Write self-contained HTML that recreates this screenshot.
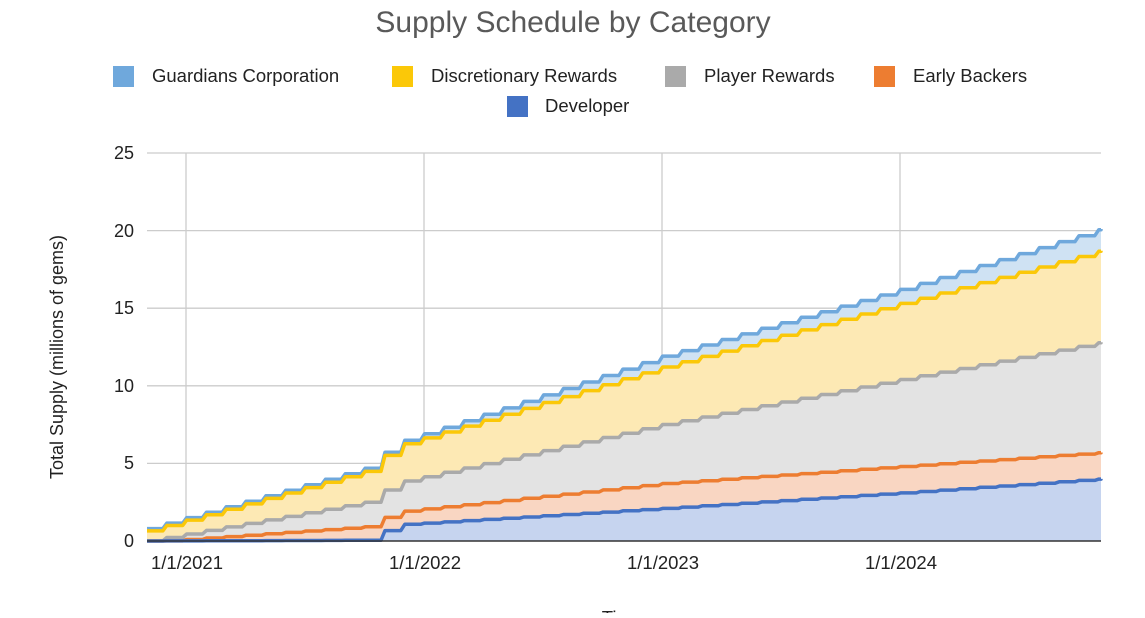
<!DOCTYPE html><html><head><meta charset="utf-8"><style>
body{margin:0;background:#fff;font-family:"Liberation Sans",sans-serif}
</style></head><body>
<svg id="s" width="1145" height="613" xmlns="http://www.w3.org/2000/svg" font-family="Liberation Sans, sans-serif">
<rect width="1145" height="613" fill="#fff"/>
<text x="573" y="32" font-size="30" fill="#595959" text-anchor="middle">Supply Schedule by Category</text>
<g font-size="18.5" fill="#222">
<rect x="113" y="66" width="21" height="21" fill="#6fa8dc"/><text x="152" y="82">Guardians Corporation</text>
<rect x="392" y="66" width="21" height="21" fill="#fbc808"/><text x="431" y="82">Discretionary Rewards</text>
<rect x="665" y="66" width="21" height="21" fill="#aaaaaa"/><text x="704" y="82">Player Rewards</text>
<rect x="874" y="66" width="21" height="21" fill="#ed7d31"/><text x="913" y="82">Early Backers</text>
<rect x="507" y="96" width="21" height="21" fill="#4472c4"/><text x="545" y="112">Developer</text>
</g>
<g stroke="#cccccc" stroke-width="1.3">
<line x1="147" x2="1101" y1="153" y2="153"/><line x1="147" x2="1101" y1="230.6" y2="230.6"/>
<line x1="147" x2="1101" y1="308.2" y2="308.2"/><line x1="147" x2="1101" y1="385.8" y2="385.8"/>
<line x1="147" x2="1101" y1="463.4" y2="463.4"/>
<line x1="186" x2="186" y1="153" y2="541"/><line x1="424" x2="424" y1="153" y2="541"/>
<line x1="662" x2="662" y1="153" y2="541"/><line x1="900" x2="900" y1="153" y2="541"/>
</g>
<g font-size="18" fill="#222" text-anchor="end">
<text x="134" y="159">25</text><text x="134" y="237">20</text><text x="134" y="314">15</text>
<text x="134" y="392">10</text><text x="134" y="469">5</text><text x="134" y="547">0</text>
</g>
<g font-size="18.5" fill="#222" text-anchor="middle">
<text x="187" y="569">1/1/2021</text><text x="425" y="569">1/1/2022</text>
<text x="663" y="569">1/1/2023</text><text x="901" y="569">1/1/2024</text>
<text x="622" y="624">Time</text>
</g>
<text transform="translate(63,357) rotate(-90)" font-size="18" fill="#222" text-anchor="middle">Total Supply (millions of gems)</text>
<g id="areas"></g>
<line x1="147" x2="1101" y1="541" y2="541" stroke="#333" stroke-width="1.5"/>
</svg>
<script>
var S=[
 {k:[[147,0.8],[383,5.0],[386,6.1],[662,11.9],[900,16.2],[1101,20.1]],l:"#6fa8dc",f:"#cfe2f3"},
 {k:[[147,0.65],[383,4.8],[386,5.9],[662,11.2],[900,15.3],[1101,18.7]],l:"#fbc808",f:"#fde9b4"},
 {k:[[147,0],[383,2.7],[386,3.6],[662,7.5],[900,10.4],[1101,12.8]],l:"#aaaaaa",f:"#e3e3e3"},
 {k:[[147,0],[165,0],[383,1.0],[386,1.8],[662,3.7],[900,4.8],[1101,5.7]],l:"#ed7d31",f:"#f9d6c2"},
 {k:[[147,0],[383,0.05],[386,1.0],[662,2.1],[900,3.1],[1101,4.0]],l:"#4472c4",f:"#c6d4ef"}];
function f(k,x){for(var i=1;i<k.length;i++){if(x<=k[i][0]){var a=k[i-1],b=k[i];return a[1]+(b[1]-a[1])*(x-a[0])/(b[0]-a[0]);}}return k[k.length-1][1];}
function Y(v){return 541-v*15.52;}
var g=document.getElementById("areas"),h="";
S.forEach(function(s){
 var p=[],m=19.83;
 for(var x=147;x<1101;x+=m){var v=f(s.k,x);p.push([x,Y(v)]);p.push([Math.min(x+m-4,1101),Y(v)]);}
 p.push([1101,Y(f(s.k,1101))]);
 var d=p.map(function(q){return q[0].toFixed(1)+","+q[1].toFixed(1)}).join(" ");
 h+='<polygon points="147,541 '+d+' 1101,541" fill="'+s.f+'"/>';
 s.d=d;
});
S.forEach(function(s){h+='<polyline points="'+s.d+'" fill="none" stroke="'+s.l+'" stroke-width="3.5" stroke-linejoin="round"/>';});
g.innerHTML=h;
</script>
</body></html>
